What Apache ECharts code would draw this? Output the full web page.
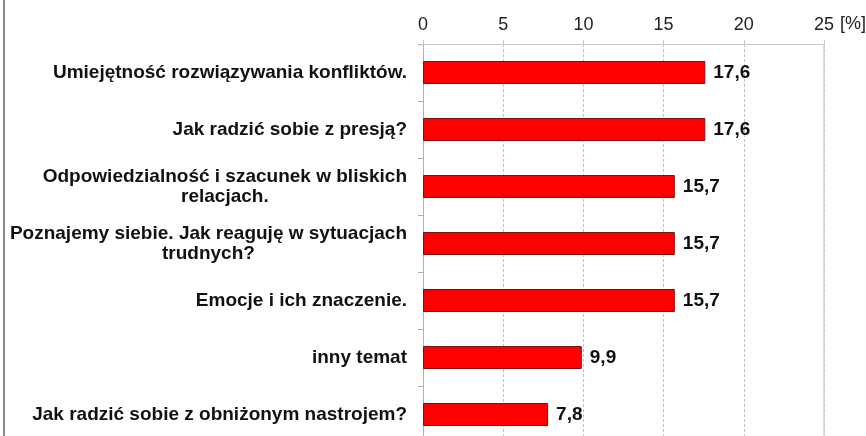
<!DOCTYPE html>
<html>
<head>
<meta charset="utf-8">
<script src="https://cdn.jsdelivr.net/npm/echarts@6/dist/echarts.min.js"></script>
<style>
  html, body { margin: 0; padding: 0; background: #fff; }
  #chart { width: 866px; height: 436px; }
</style>
</head>
<body>
<div id="chart"></div>
<script>
// categories, top to bottom
const categories = [
    'Umiejętność rozwiązywania konfliktów.',
    'Jak radzić sobie z presją?',
    'Odpowiedzialność i szacunek w bliskich\nrelacjach.',
    'Poznajemy siebie. Jak reaguję w sytuacjach\ntrudnych?',
    'Emocje i ich znaczenie.',
    'inny temat',
    'Jak radzić sobie z obniżonym nastrojem?'
];
const values = [17.6, 17.6, 15.7, 15.7, 15.7, 9.9, 7.8];
const axisMax = 25;
const axisStep = 5;

const chart = echarts.init(document.getElementById('chart'));

const FONT = '"Liberation Sans", Arial, sans-serif';

let option = {
    animation: false,
    textStyle: { fontFamily: FONT },
    grid: {
        left: 423,
        top: 44,
        width: 401,
        height: 399,
        containLabel: false,
        outerBoundsMode: 'none'
    },
    xAxis: {
        type: 'value',
        position: 'top',
        min: 0,
        max: axisMax,
        interval: axisStep,
        name: '[%]',
        nameLocation: 'end',
        nameGap: 13,
        nameTextStyle: {
            fontFamily: FONT,
            fontSize: 18,
            color: '#222',
            verticalAlign: 'bottom',
            lineHeight: 18,
            padding: [0, 0, 11, 0]
        },
        axisLine: { show: true, lineStyle: { color: '#c8c8c8', width: 1 } },
        axisTick: { show: true, length: 4, lineStyle: { color: '#c8c8c8' } },
        axisLabel: {
            fontFamily: FONT,
            fontSize: 18,
            color: '#222',
            margin: 10
        },
        splitLine: {
            show: true,
            lineStyle: { color: '#c0c0c0', type: [3, 2], width: 1 }
        }
    },
    yAxis: {
        type: 'category',
        inverse: true,
        data: categories,
        axisLine: { show: true, lineStyle: { color: '#b0b0b0', width: 1 } },
        axisTick: { show: true, length: 5, lineStyle: { color: '#b0b0b0' } },
        axisLabel: {
            margin: 16,
            formatter: function (v) {
                return v.split('\n').map(s => '{c|' + s + '}').join('\n');
            },
            rich: {
                c: {
                    align: 'center',
                    fontFamily: FONT,
                    fontSize: 19,
                    fontWeight: 'bold',
                    color: '#111',
                    lineHeight: 20
                }
            }
        }
    },
    graphic: [
        {
            type: 'line',
            shape: { x1: 4, y1: 0, x2: 4, y2: 436 },
            style: { stroke: '#8a8a8a', lineWidth: 2 }
        }
    ],
    series: [
        {
            type: 'bar',
            data: values,
            barWidth: 23,
            itemStyle: {
                color: '#ff0000',
                borderColor: '#7a1010',
                borderWidth: 1
            },
            label: {
                show: true,
                position: 'right',
                distance: 8,
                fontFamily: FONT,
                fontSize: 19,
                fontWeight: 'bold',
                color: '#111',
                formatter: p => p.value.toFixed(1).replace('.', ',')
            },
            markLine: {
                silent: true,
                symbol: ['none', 'none'],
                label: { show: false },
                lineStyle: { color: '#d0d0d0', type: 'solid', width: 1.5 },
                data: [{ xAxis: axisMax }]
            }
        }
    ]
};

chart.setOption(option);
</script>
</body>
</html>
